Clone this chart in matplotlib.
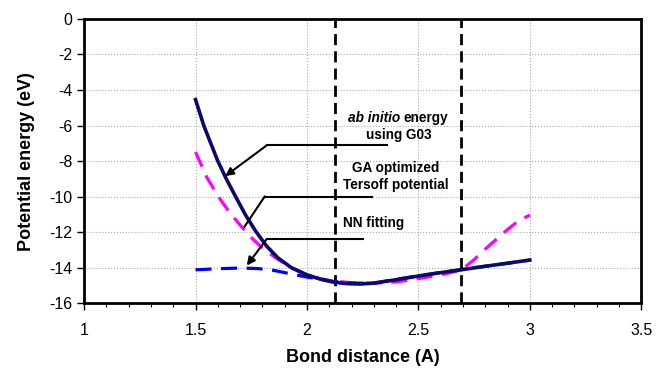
import matplotlib.pyplot as plt
from matplotlib.ticker import MultipleLocator, FormatStrFormatter

plt.rcParams['font.family'] = ['Liberation Sans', 'DejaVu Sans']
plt.rcParams['axes.unicode_minus'] = False

# ab initio energy (G03)
x_abinitio = [1.5, 1.537, 1.57, 1.6, 1.64, 1.68, 1.725, 1.77, 1.82, 1.87, 1.93, 2.0, 2.06,
              2.12, 2.18, 2.24, 2.3, 2.4, 2.5, 2.6, 2.69, 2.8, 2.9, 3.0]
y_abinitio = [-4.54, -6.0, -7.05, -8.0, -9.05, -10.0, -11.05, -11.95, -12.8, -13.45, -14.0, -14.4, -14.65,
              -14.82, -14.9, -14.92, -14.87, -14.68, -14.47, -14.28, -14.12, -13.92, -13.75, -13.57]

# GA optimized Tersoff potential
x_tersoff = [1.5, 1.55, 1.6, 1.65, 1.7, 1.75, 1.8, 1.86, 1.93, 2.0, 2.1, 2.2, 2.3, 2.4, 2.5,
             2.6, 2.69, 2.75, 2.8, 2.85, 2.9, 2.95, 3.0]
y_tersoff = [-7.49, -8.9, -9.95, -10.85, -11.6, -12.3, -12.9, -13.45, -14.0, -14.45, -14.72, -14.85, -14.88, -14.8, -14.62,
             -14.4, -14.15, -13.55, -12.95, -12.4, -11.85, -11.35, -11.04]

# NN fitting
x_nn = [1.5, 1.6, 1.7, 1.78, 1.85, 1.92, 2.0, 2.06, 2.12, 2.2, 2.3, 2.4, 2.5, 2.6, 2.7, 2.8, 2.9, 3.0]
y_nn = [-14.12, -14.06, -14.02, -14.05, -14.15, -14.33, -14.53, -14.65, -14.77, -14.87, -14.87, -14.66,
        -14.46, -14.27, -14.1, -13.92, -13.75, -13.58]

# vertical markers
vlines = [2.125, 2.69]

fig = plt.figure(figsize=(6.57, 3.79), dpi=100)
ax = fig.add_axes([0.128, 0.200, 0.848, 0.750])

ax.plot(x_tersoff, y_tersoff, color='#ff00ff', lw=2.3, dashes=(5, 3), zorder=3)
ax.plot(x_nn, y_nn, color='#0000ff', lw=2.3, dashes=(5, 3), zorder=4)
ax.plot(x_abinitio, y_abinitio, color='#0a0a6e', lw=2.6, solid_joinstyle='round', zorder=5)

for xv in vlines:
    ax.axvline(xv, color='black', lw=2, dashes=(4, 2.2), zorder=2)

ax.set_xlim(1, 3.5)
ax.set_ylim(-16, 0)
ax.xaxis.set_major_locator(MultipleLocator(0.5))
ax.xaxis.set_minor_locator(MultipleLocator(0.1))
ax.yaxis.set_major_locator(MultipleLocator(2))
ax.xaxis.set_major_formatter(FormatStrFormatter('%g'))
ax.yaxis.set_major_formatter(FormatStrFormatter('%g'))
ax.grid(True, which='major', color='#aaaaaa', ls=':', lw=0.8)
ax.set_axisbelow(True)

ax.tick_params(axis='both', which='major', direction='out', length=5, width=1, labelsize=11.5)
ax.tick_params(axis='x', which='major', pad=9)
ax.tick_params(axis='x', which='minor', direction='out', length=3, width=0.8)
for sp in ax.spines.values():
    sp.set_linewidth(2)

ax.set_xlabel('Bond distance (A)', fontsize=13, fontweight='bold', labelpad=8)
ax.set_ylabel('Potential energy (eV)', fontsize=13, fontweight='bold', labelpad=10)

# annotations: text, horizontal leader, diagonal arrow
fs = 9.8
ax.text(2.418, -5.55, 'ab initio', ha='right', va='center', fontsize=fs,
        fontweight='bold', style='italic')
ax.text(2.432, -5.55, 'energy', ha='left', va='center', fontsize=fs, fontweight='bold')
ax.text(2.41, -6.55, 'using G03', ha='center', va='center', fontsize=fs, fontweight='bold')
ax.text(2.40, -8.4, 'GA optimized', ha='center', va='center', fontsize=fs, fontweight='bold')
ax.text(2.40, -9.36, 'Tersoff potential', ha='center', va='center', fontsize=fs, fontweight='bold')
ax.text(2.16, -11.48, 'NN fitting', ha='left', va='center', fontsize=fs, fontweight='bold')

leaders = [
    (2.36, 1.82, -7.11, 1.633, -8.85, True),
    (2.29, 1.81, -10.0, 1.72, -11.69, False),
    (2.25, 1.82, -12.38, 1.73, -13.88, True),
]
for x_end, x_corner, y_corner, x_tip, y_tip, head in leaders:
    ax.plot([x_end, x_corner], [y_corner, y_corner], color='black', lw=1.5, zorder=6)
    if head:
        ax.annotate('', xy=(x_tip, y_tip), xytext=(x_corner, y_corner),
                    arrowprops=dict(arrowstyle='-|>', color='black', lw=1.5,
                                    mutation_scale=12, shrinkA=0, shrinkB=0), zorder=6)
    else:
        ax.plot([x_corner, x_tip], [y_corner, y_tip], color='black', lw=1.5, zorder=6)

fig.savefig('out.png', dpi=100)
